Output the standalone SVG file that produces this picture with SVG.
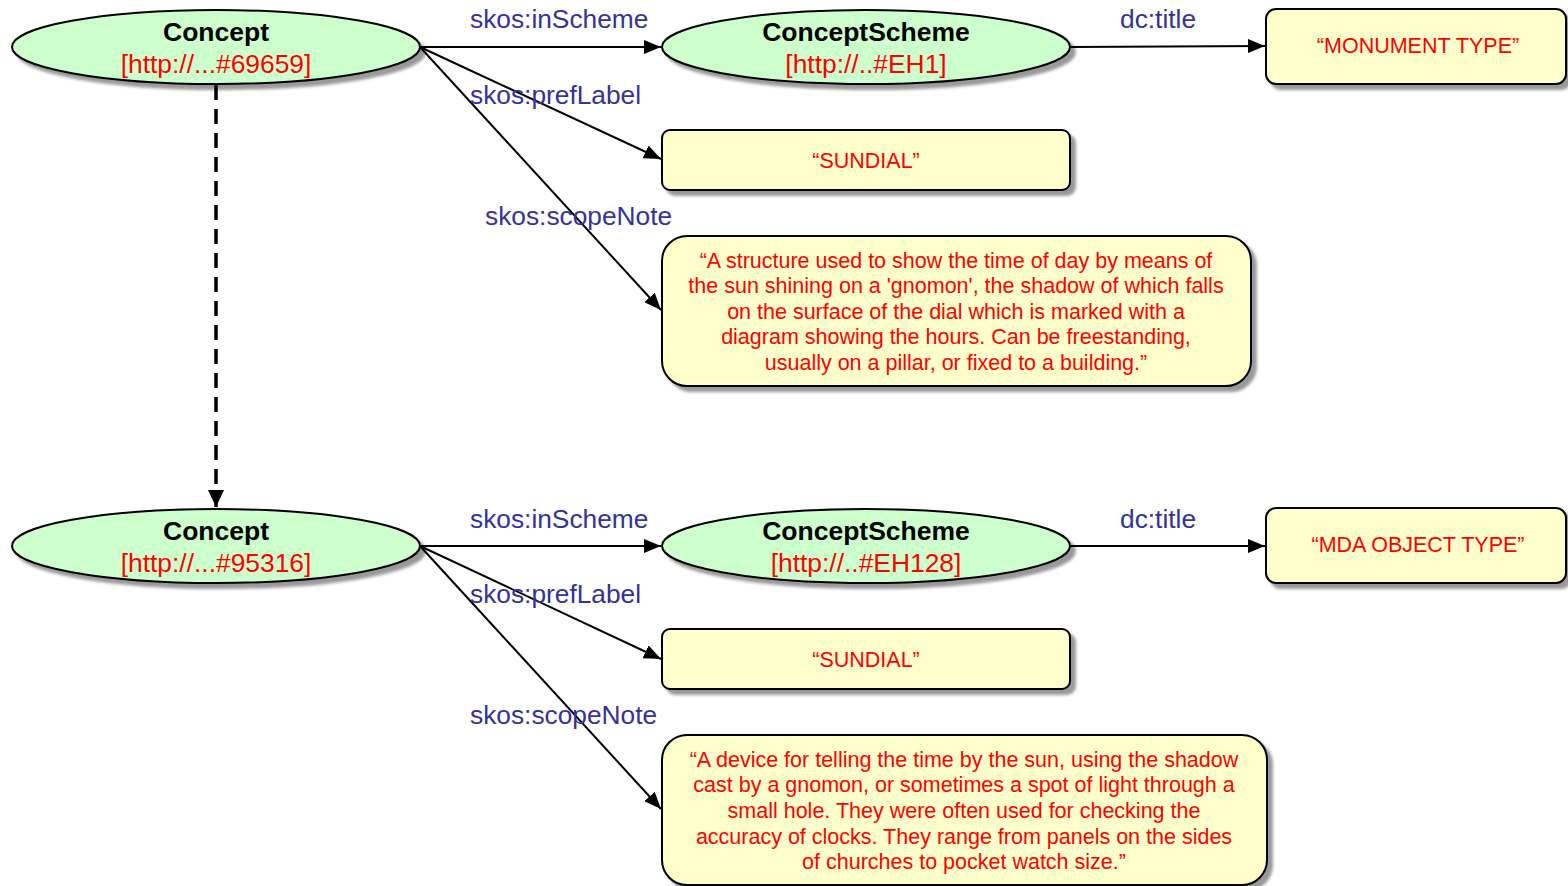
<svg xmlns="http://www.w3.org/2000/svg" width="1568" height="886" viewBox="0 0 1568 886">
  <style>
    .res { fill: #ccffcc; stroke: #000; stroke-width: 2; filter: url(#shadow); }
    .lit { fill: #ffffcc; stroke: #000; stroke-width: 2; filter: url(#shadow); }
    .title { font-family: "Liberation Sans", Arial, sans-serif; font-size: 26.5px; font-weight: bold; fill: #000; text-anchor: middle; }
    .uri { font-family: "Liberation Sans", Arial, sans-serif; font-size: 26.4px; fill: #ff0000; text-anchor: middle; }
    .val { font-family: "Liberation Sans", Arial, sans-serif; font-size: 21.5px; fill: #ff0000; text-anchor: middle; }
    .prop { font-family: "Liberation Sans", Arial, sans-serif; font-size: 26.3px; fill: #333399; }
    .edge { stroke: #000; stroke-width: 2; fill: none; marker-end: url(#arrow); }
    .sub { stroke: #000; stroke-width: 3.5; fill: none; stroke-dasharray: 15 9; marker-end: url(#bigarrow); }
  </style>
  <defs>
    <filter id="shadow" x="-10%" y="-20%" width="130%" height="150%">
      <feGaussianBlur in="SourceAlpha" stdDeviation="1.5"/>
      <feOffset dx="5" dy="5" result="off"/>
      <feComponentTransfer><feFuncA type="linear" slope="0.4"/></feComponentTransfer>
      <feMerge><feMergeNode/><feMergeNode in="SourceGraphic"/></feMerge>
    </filter>
    <marker id="arrow" markerUnits="userSpaceOnUse" markerWidth="18" markerHeight="14" refX="17" refY="7" orient="auto">
      <path d="M0,0 L17,7 L0,14 Z" fill="#000"/>
    </marker>
    <marker id="bigarrow" markerUnits="userSpaceOnUse" markerWidth="18" markerHeight="18" refX="17" refY="8" orient="auto">
      <path d="M0,0 L17,8 L0,16 Z" fill="#000"/>
    </marker>
  </defs>

  <g id="connectors">
    <line class="sub" x1="216" y1="85" x2="216" y2="507"/>
    <line class="edge" x1="420" y1="47" x2="661" y2="47"/>
    <line class="edge" x1="420" y1="47" x2="661" y2="159"/>
    <line class="edge" x1="420" y1="47" x2="661" y2="310"/>
    <line class="edge" x1="1071" y1="47" x2="1265" y2="46"/>
    <line class="edge" x1="420" y1="546" x2="661" y2="546"/>
    <line class="edge" x1="420" y1="546" x2="661" y2="659"/>
    <line class="edge" x1="420" y1="546" x2="661" y2="809"/>
    <line class="edge" x1="1071" y1="546" x2="1265" y2="546"/>
    <text class="prop" x="470" y="28">skos:inScheme</text>
    <text class="prop" x="470" y="104">skos:prefLabel</text>
    <text class="prop" x="485" y="225">skos:scopeNote</text>
    <text class="prop" x="1120" y="28">dc:title</text>
    <text class="prop" x="470" y="528">skos:inScheme</text>
    <text class="prop" x="470" y="603">skos:prefLabel</text>
    <text class="prop" x="470" y="724">skos:scopeNote</text>
    <text class="prop" x="1120" y="528">dc:title</text>
  </g>

  <g id="concept-69659">
    <ellipse class="res" cx="216" cy="47" rx="204" ry="37"/>
    <text class="title" x="216" y="41">Concept</text>
    <text class="uri" x="216" y="73">[http://...#69659]</text>
  </g>
  <g id="scheme-eh1">
    <ellipse class="res" cx="866" cy="47" rx="204" ry="37"/>
    <text class="title" x="866" y="41">ConceptScheme</text>
    <text class="uri" x="866" y="73">[http://..#EH1]</text>
  </g>
  <g id="title-eh1">
    <rect class="lit" x="1266" y="9" width="300" height="75" rx="10"/>
    <text class="val" x="1418" y="53">“MONUMENT TYPE”</text>
  </g>
  <g id="preflabel-69659">
    <rect class="lit" x="662" y="130" width="408" height="60" rx="8"/>
    <text class="val" x="866" y="168">“SUNDIAL”</text>
  </g>
  <g id="scopenote-69659">
    <rect class="lit" x="662" y="236" width="589" height="150" rx="25"/>
    <text class="val" x="956" y="268">“A structure used to show the time of day by means of</text>
    <text class="val" x="956" y="293">the sun shining on a 'gnomon', the shadow of which falls</text>
    <text class="val" x="956" y="319">on the surface of the dial which is marked with a</text>
    <text class="val" x="956" y="344">diagram showing the hours. Can be freestanding,</text>
    <text class="val" x="956" y="370">usually on a pillar, or fixed to a building.”</text>
  </g>

  <g id="concept-95316">
    <ellipse class="res" cx="216" cy="546" rx="204" ry="37"/>
    <text class="title" x="216" y="540">Concept</text>
    <text class="uri" x="216" y="572">[http://...#95316]</text>
  </g>
  <g id="scheme-eh128">
    <ellipse class="res" cx="866" cy="546" rx="204" ry="37"/>
    <text class="title" x="866" y="540">ConceptScheme</text>
    <text class="uri" x="866" y="572">[http://..#EH128]</text>
  </g>
  <g id="title-eh128">
    <rect class="lit" x="1266" y="508" width="300" height="75" rx="10"/>
    <text class="val" x="1418" y="552">“MDA OBJECT TYPE”</text>
  </g>
  <g id="preflabel-95316">
    <rect class="lit" x="662" y="629" width="408" height="60" rx="8"/>
    <text class="val" x="866" y="667">“SUNDIAL”</text>
  </g>
  <g id="scopenote-95316">
    <rect class="lit" x="662" y="735" width="605" height="150" rx="25"/>
    <text class="val" x="964" y="767">“A device for telling the time by the sun, using the shadow</text>
    <text class="val" x="964" y="792">cast by a gnomon, or sometimes a spot of light through a</text>
    <text class="val" x="964" y="818">small hole. They were often used for checking the</text>
    <text class="val" x="964" y="844">accuracy of clocks. They range from panels on the sides</text>
    <text class="val" x="964" y="869">of churches to pocket watch size.”</text>
  </g>
</svg>
